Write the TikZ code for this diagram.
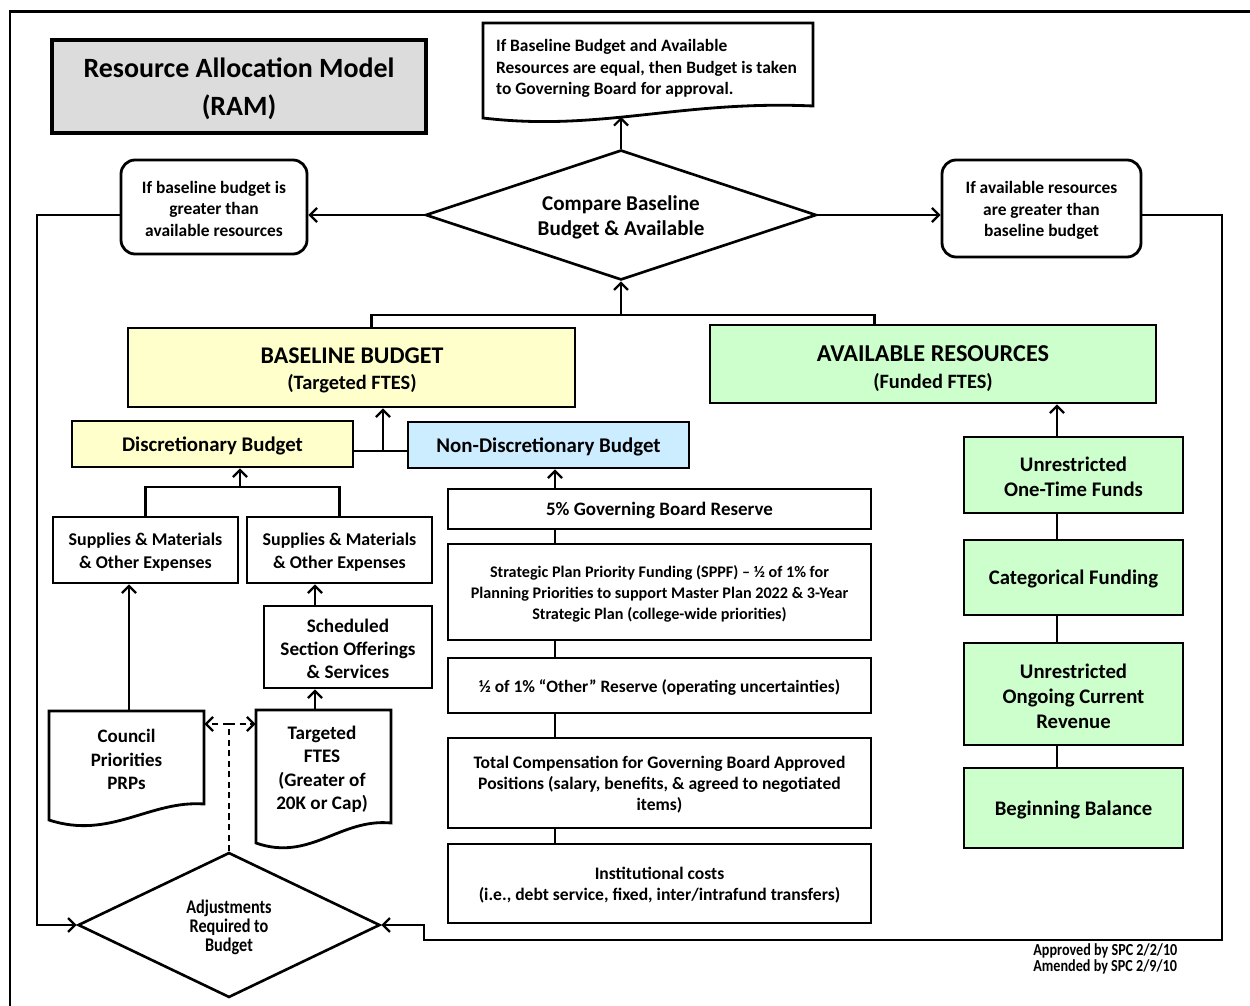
\documentclass[tikz,border=0pt]{standalone}
\usepackage{fontspec}
\setmainfont{Carlito}
\newfontfamily\narrowfont[FakeStretch=0.84]{Carlito}
\usetikzlibrary{arrows.meta,shapes.geometric,fit,calc}
\definecolor{ylw}{HTML}{FFFFCC}
\definecolor{grn}{HTML}{CCFFCC}
\definecolor{blu}{HTML}{CCECFF}
\definecolor{titlegray}{HTML}{DCDCDC}
\newcommand\fsz[2]{\fontsize{#1}{#2}\selectfont}
\begin{document}
\begin{tikzpicture}[x=0.02cm,y=-0.02cm,
  conn/.style={line width=1.3pt},
  arr/.style={conn,-{Straight Barb[length=4pt,width=8pt,line width=1.3pt]}},
  darr/.style={arr,dash pattern=on 3.5pt off 2.5pt},
  box/.style={draw,line width=1.6pt,inner sep=0pt},
  rbox/.style={box,rounded corners=8pt},
  dia/.style={draw,diamond,line width=1.5pt,inner sep=0pt},
  doc/.style={line width=1.6pt},
  lbl/.style={inner sep=0pt,align=center,anchor=center,yshift=-1.1pt},
]
\useasboundingbox (0,0) rectangle (1250,1006);
% outer frame (top and left edges)
\draw[line width=1.7pt] (10,1012) -- (10,12) -- (1256,12);

% title
\node[box,line width=2.4pt,fill=titlegray,fit={(52,40) (426,133)}] (title) {};
\node[lbl,font=\bfseries\fsz{15.9}{21.5}] (title-t) at (title.center) {Resource Allocation Model\\(RAM)};

% approval document at the top
\draw[doc] (483,118) -- (483,23) -- (813,23) -- (813,106)
  .. controls (680,100) and (600,132) .. (483,118) -- cycle;
\node[lbl,align=left,font=\bfseries\fsz{9.9}{12.2}] (topdoc) at (646.5,66.5)
  {If Baseline Budget and Available\\Resources are equal, then Budget is taken\\to Governing Board for approval.};
\coordinate (topdocbase) at (621,117);

% comparison decision
\node[dia,minimum width=7.82cm,minimum height=2.6cm,aspect=3] (cmp) at (621,215) {};
\node[lbl,font=\bfseries\fsz{12}{14.2}] (cmp-t) at (621,215.5) {Compare Baseline\\Budget \& Available};

% outcome boxes
\node[rbox,fit={(121,160) (307,254)}] (lbox) {};
\node[lbl,font=\bfseries\fsz{9.9}{12}] (lbox-t) at (lbox.center) {If baseline budget is\\greater than\\available resources};
\node[rbox,fit={(942,160) (1141,257)}] (rbox) {};
\node[lbl,font=\bfseries\fsz{9.9}{12}] (rbox-t) at (rbox.center) {If available resources\\are greater than\\baseline budget};

% budget totals
\node[box,fill=ylw,fit={(128,328) (575,407)}] (bl) {};
\node[lbl,font=\bfseries\fsz{11.6}{15.3}] (bl-t) at (352,368.5)
  {{\fsz{13.6}{15.3}BASELINE BUDGET}\\(Targeted FTES)};
\node[box,fill=grn,fit={(710,325) (1156,403)}] (av) {};
\node[lbl,font=\bfseries\fsz{11.6}{15.3}] (av-t) at (933,366.5)
  {{\fsz{13.8}{15.3}AVAILABLE RESOURCES}\\(Funded FTES)};

% budget parts
\node[box,fill=ylw,fit={(72,421) (353,467)}] (disc) {};
\node[lbl,font=\bfseries\fsz{11.85}{13}] (disc-t) at (disc.center) {Discretionary Budget};
\node[box,fill=blu,fit={(408,422) (689,468)}] (nd) {};
\node[lbl,font=\bfseries\fsz{11.9}{13}] (nd-t) at (nd.center) {Non-Discretionary Budget};

% discretionary inputs
\node[box,fit={(53,517) (238,583)}] (sup1) {};
\node[lbl,font=\bfseries\fsz{10.2}{13}] (sup1-t) at (sup1.center) {Supplies \& Materials\\\& Other Expenses};
\node[box,fit={(247,517) (432,583)}] (sup2) {};
\node[lbl,font=\bfseries\fsz{10.2}{13}] (sup2-t) at (sup2.center) {Supplies \& Materials\\\& Other Expenses};
\node[box,fit={(264,606) (432,688)}] (sched) {};
\node[lbl,font=\bfseries\fsz{10.9}{13.3}] (sched-t) at (sched.center) {Scheduled\\Section Offerings\\\& Services};

% document shapes
\draw[doc] (49,820) -- (49,711) -- (204,711) -- (204,804)
  .. controls (150,800) and (110,840) .. (49,820) -- cycle;
\node[inner sep=0pt,fit={(49,711) (204,804)}] (cp) {};
\node[lbl,font=\bfseries\fsz{10.8}{13.3}] (cp-t) at (126.5,757.5) {Council\\Priorities\\PRPs};
\draw[doc] (256,843) -- (256,710) -- (391,710) -- (391,823)
  .. controls (340,818) and (310,862) .. (256,843) -- cycle;
\node[inner sep=0pt,fit={(256,710) (391,823)}] (tf) {};
\node[lbl,font=\bfseries\fsz{10.9}{13.4}] (tf-t) at (322,767.5) {Targeted\\FTES\\(Greater of\\20K or Cap)};

% adjustments decision
\node[dia,minimum width=6.04cm,minimum height=2.9cm,aspect=2] (adj) at (229,925) {};
\node[lbl,font=\narrowfont\bfseries\fsz{11}{10.7}] (adj-t) at (229,925.5) {Adjustments\\Required to\\Budget};

% non-discretionary stack
\node[box,fit={(448,489) (871,529)}] (g5) {};
\node[lbl,font=\bfseries\fsz{10.8}{13}] (g5-t) at (g5.center) {5\% Governing Board Reserve};
\node[box,fit={(448,544) (871,640)}] (sppf) {};
\node[lbl,font=\bfseries\fsz{9.2}{12}] (sppf-t) at (sppf.center)
  {Strategic Plan Priority Funding (SPPF) – ½ of 1\% for\\Planning Priorities to support Master Plan 2022 \& 3-Year\\Strategic Plan (college-wide priorities)};
\node[box,fit={(448,658) (871,713)}] (half) {};
\node[lbl,font=\bfseries\fsz{9.9}{12}] (half-t) at (half.center) {½ of 1\% “Other” Reserve (operating uncertainties)};
\node[box,fit={(448,738) (871,828)}] (tc) {};
\node[lbl,font=\bfseries\fsz{10}{12}] (tc-t) at (tc.center)
  {Total Compensation for Governing Board Approved\\Positions (salary, benefits, \& agreed to negotiated\\items)};
\node[box,fit={(448,844) (871,923)}] (inst) {};
\node[lbl,font=\bfseries\fsz{10}{12}] (inst-t) at (inst.center)
  {Institutional costs\\(i.e., debt service, fixed, inter/intrafund transfers)};

% resource stack
\node[box,fill=grn,fit={(964,437) (1183,513)}] (one) {};
\node[lbl,font=\bfseries\fsz{11.8}{14.3}] (one-t) at (one.center) {Unrestricted\\One-Time Funds};
\node[box,fill=grn,fit={(964,540) (1183,615)}] (cat) {};
\node[lbl,font=\bfseries\fsz{11.8}{14.3}] (cat-t) at (cat.center) {Categorical Funding};
\node[box,fill=grn,fit={(964,643) (1183,745)}] (ong) {};
\node[lbl,font=\bfseries\fsz{11.8}{14.3}] (ong-t) at (ong.center) {Unrestricted\\Ongoing Current\\Revenue};
\node[box,fill=grn,fit={(964,768) (1183,848)}] (beg) {};
\node[lbl,font=\bfseries\fsz{11.8}{14.3}] (beg-t) at (beg.center) {Beginning Balance};

% approval note
\node[inner sep=0pt,anchor=north west,align=left,font=\narrowfont\bfseries\fsz{9.6}{9.4}] (note) at (1033,943)
  {Approved by SPC 2/2/10\\Amended by SPC 2/9/10};

% ---- connectors ----
\draw[arr] (cmp.north) -- (topdocbase);
\draw[arr] (cmp.west) -- (cmp.west -| lbox.east);
\draw[arr] (cmp.east) -- (cmp.east -| rbox.west);

\coordinate (lrail) at (37,0);
\coordinate (rrail) at (1222,0);
\coordinate (bot) at (424,940);
\draw[arr] (lbox.west |- cmp.west) -- (lrail |- cmp.west) -- (lrail |- adj.west) -- (adj.west);
\draw[arr] (rbox.east |- cmp.east) -- (rrail |- cmp.east) -- (rrail |- bot) -- (bot) -- (bot |- adj.east) -- (adj.east);

\coordinate (jtop) at (621,315);
\draw[conn] ($(bl.north west)+(245,0)$) |- (jtop) -| ($(av.north west)+(166,0)$);
\draw[arr] (jtop) -- (cmp.south);

\coordinate (jd) at (383,451);
\draw[conn] (disc.east |- jd) -- (nd.west |- jd);
\draw[arr] (jd) -- (jd |- bl.south);

\coordinate (js) at (240,487);
\draw[conn] (sup1.north) |- (js) -| (sup2.north);
\draw[arr] (js) -- (js |- disc.south);

\coordinate (xa) at (315,0);
\draw[arr] (sched.north -| xa) -- (sup2.south -| xa);
\draw[arr] (tf.north -| xa) -- (sched.south -| xa);
\coordinate (xc) at (129,0);
\draw[arr] (cp.north -| xc) -- (sup1.south -| xc);

\coordinate (jdash) at (229,724);
\draw[conn,dash pattern=on 3.5pt off 2.5pt] (adj.north) -- (jdash);
\draw[darr] (jdash) -- (jdash -| cp.east);
\draw[darr] (jdash) -- (jdash -| tf.west);

\coordinate (xn) at (555,0);
\draw[arr] (g5.north -| xn) -- (nd.south -| xn);
\draw[conn] (g5.south -| xn) -- (sppf.north -| xn);
\draw[conn] (sppf.south -| xn) -- (half.north -| xn);
\draw[conn] (half.south -| xn) -- (tc.north -| xn);
\draw[conn] (tc.south -| xn) -- (inst.north -| xn);

\coordinate (xg) at (1057,0);
\draw[arr] (one.north -| xg) -- (av.south -| xg);
\draw[conn] (one.south -| xg) -- (cat.north -| xg);
\draw[conn] (cat.south -| xg) -- (ong.north -| xg);
\draw[conn] (ong.south -| xg) -- (beg.north -| xg);
\end{tikzpicture}
\end{document}
